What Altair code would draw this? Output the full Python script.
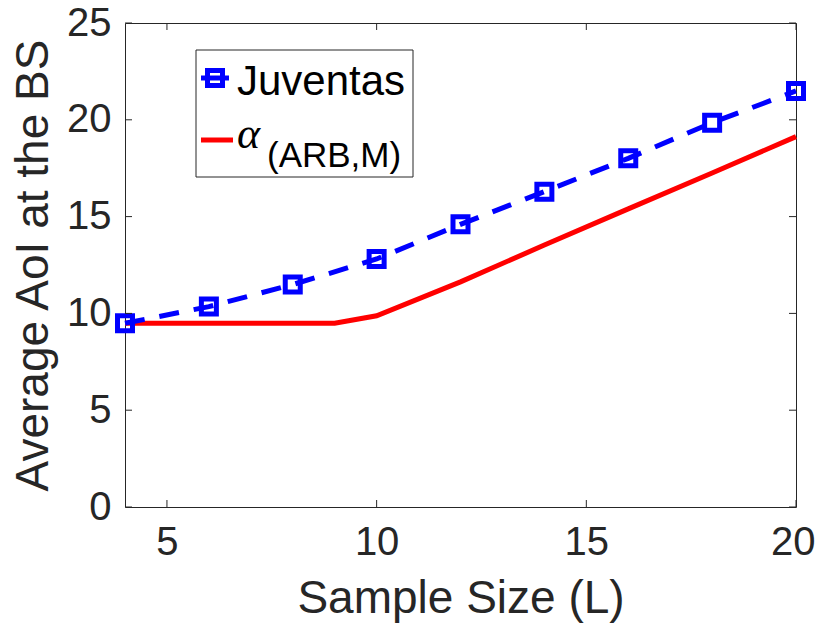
import altair as alt
import pandas as pd

# ---- data ----
L_juv = [4, 6, 8, 10, 12, 14, 16, 18, 20]
aoi_juv = [9.49, 10.35, 11.49, 12.81, 14.6, 16.29, 18.01, 19.85, 21.49]

L_arb = [4, 5, 6, 7, 8, 9, 10, 12, 14, 16, 18, 20]
aoi_arb = [9.49, 9.49, 9.49, 9.49, 9.49, 9.49, 9.88, 11.63, 13.53, 15.4, 17.25, 19.13]

x_ticks = [5, 10, 15, 20]
y_ticks = [0, 5, 10, 15, 20, 25]

legend_juv = ["Juventas"]
legend_alpha = ["\u03b1"]
legend_sub = ["(ARB,M)"]

x_title = "Sample Size (L)"
y_title = "Average AoI at the BS"

W, H = 671, 484
FONT = "Liberation Sans"
AX = "#262626"
BLUE = "#0000FF"
RED = "#FF0000"

juv = pd.DataFrame({"L": L_juv, "AoI": aoi_juv})
arb = pd.DataFrame({"L": L_arb, "AoI": aoi_arb})
xt = pd.DataFrame({"L": x_ticks})
yt = pd.DataFrame({"AoI": y_ticks})

xscale = alt.Scale(domain=[4, 20], nice=False, zero=False)
yscale = alt.Scale(domain=[0, 25], nice=False)

xaxis = alt.Axis(values=x_ticks, title=x_title, ticks=False, domain=False, grid=False,
                 labelFont=FONT, labelFontSize=40, labelColor=AX, labelPadding=15,
                 titleFont=FONT, titleFontSize=46, titleFontWeight="normal", titleColor=AX,
                 titlePadding=14, labelFlush=True, labelFlushOffset=19)
yaxis = alt.Axis(values=y_ticks, title=y_title, ticks=False, domain=False, grid=False,
                 labelFont=FONT, labelFontSize=40, labelColor=AX, labelPadding=14,
                 titleFont=FONT, titleFontSize=46, titleFontWeight="normal", titleColor=AX,
                 titlePadding=9, labelFlush=False)

X = lambda: alt.X("L:Q", scale=xscale, axis=xaxis)
Y = lambda: alt.Y("AoI:Q", scale=yscale, axis=yaxis)

red_line = alt.Chart(arb).mark_line(color=RED, strokeWidth=5).encode(x=X(), y=Y())
blue_line = alt.Chart(juv).mark_line(color=BLUE, strokeWidth=5, strokeDash=[20, 15]).encode(x=X(), y=Y())
blue_pts = alt.Chart(juv).mark_point(shape="square", filled=False, size=225, strokeWidth=5,
                                      color=BLUE, opacity=1).encode(x=X(), y=Y())

# inward ticks on all four sides
xt_bot = alt.Chart(xt).mark_rule(color=AX, strokeWidth=1).encode(x=X(), y=alt.value(H), y2=alt.value(H - 7))
xt_top = alt.Chart(xt).mark_rule(color=AX, strokeWidth=1).encode(x=X(), y=alt.value(0), y2=alt.value(7))
yt_left = alt.Chart(yt).mark_rule(color=AX, strokeWidth=1).encode(y=Y(), x=alt.value(0), x2=alt.value(7))
yt_right = alt.Chart(yt).mark_rule(color=AX, strokeWidth=1).encode(y=Y(), x=alt.value(W), x2=alt.value(W - 7))

# legend
one = pd.DataFrame({"k": [1]})
leg_box = alt.Chart(one).mark_rect(fill="white", stroke=AX, strokeWidth=1).encode(
    x=alt.value(71), x2=alt.value(288), y=alt.value(27), y2=alt.value(154))
leg_bline = alt.Chart(one).mark_rule(color=BLUE, strokeWidth=5).encode(
    x=alt.value(76), x2=alt.value(104), y=alt.value(55))
leg_bpt = alt.Chart(one).mark_point(shape="square", filled=False, size=225, strokeWidth=5,
                                     color=BLUE, opacity=1).encode(x=alt.value(90), y=alt.value(55))
leg_rline = alt.Chart(one).mark_rule(color=RED, strokeWidth=5).encode(
    x=alt.value(76), x2=alt.value(108), y=alt.value(117))
leg_t1 = alt.Chart(pd.DataFrame({"t": legend_juv})).mark_text(
    align="left", baseline="alphabetic", font=FONT, fontSize=42, color="black").encode(
    text="t:N", x=alt.value(112), y=alt.value(72))
leg_t2 = alt.Chart(pd.DataFrame({"t": legend_alpha})).mark_text(
    align="left", baseline="alphabetic", font="Liberation Serif", fontStyle="italic",
    fontSize=44, color="black").encode(text="t:N", x=alt.value(112), y=alt.value(125))
leg_t3 = alt.Chart(pd.DataFrame({"t": legend_sub})).mark_text(
    align="left", baseline="alphabetic", font=FONT, fontSize=35, color="black").encode(
    text="t:N", x=alt.value(142), y=alt.value(144))

chart = alt.layer(
    red_line, blue_line, blue_pts, xt_bot, xt_top, yt_left, yt_right,
    leg_box, leg_bline, leg_bpt, leg_rline, leg_t1, leg_t2, leg_t3
).properties(
    width=W, height=H,
    autosize=alt.AutoSizeParams(type="none"),
    padding={"left": 117, "top": 15, "right": 20, "bottom": 117},
    background="white",
).configure_view(stroke=AX, strokeWidth=1)

chart.save("out.html", embed_options={"renderer": "svg", "actions": False})
